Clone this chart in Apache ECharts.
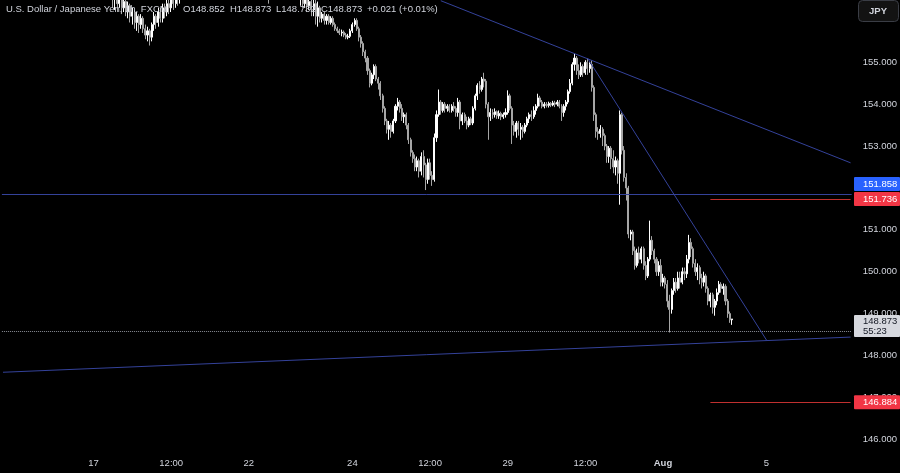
<!DOCTYPE html>
<html><head><meta charset="utf-8">
<script src="https://cdn.jsdelivr.net/npm/echarts@6/dist/echarts.min.js"></script>
<style>html,body{margin:0;padding:0;background:#000;}#c{width:900px;height:473px;}</style>
</head><body><div id="c"></div>
<script>
// ---- DATA ----
const symbolTitle = 'U.S. Dollar / Japanese Yen, 1h, FXCM';
const startTime = '2024-07-15T06:00:00Z';   // first hourly slot
const slotCount = 394;                         // hourly slots on the time axis
const tickLabels = [
  ['2024-07-17 00:00','17'],['2024-07-18 12:00','12:00'],['2024-07-22 00:00','22'],
  ['2024-07-24 00:00','24'],['2024-07-25 12:00','12:00'],['2024-07-29 00:00','29'],
  ['2024-07-30 12:00','12:00'],['2024-08-01 00:00','Aug'],['2024-08-05 00:00','5']
];
// [open, close, low, high]
const candles = [
[157.8,157.9,157.7,158.0],[157.9,158.0,157.85,158.1],[158.0,158.1,157.95,158.2],[158.1,157.95,157.9,158.15],[157.95,158.05,157.9,158.1],
[158.05,158.2,158.0,158.25],[158.2,158.1,158.05,158.3],[158.1,158.0,157.9,158.15],[158.0,157.85,157.8,158.05],[157.85,157.9,157.75,158.0],
[157.9,158.0,157.85,158.05],[158.0,158.1,157.95,158.15],[158.1,158.2,158.05,158.25],[158.2,158.3,158.15,158.35],[158.3,158.25,158.2,158.4],
[158.25,158.4,158.2,158.45],[158.4,158.35,158.3,158.5],[158.35,158.2,158.15,158.4],[158.2,158.3,158.15,158.35],[158.3,158.5,158.25,158.55],
[158.5,158.6,158.45,158.7],[158.6,158.5,158.45,158.65],[158.5,158.4,158.35,158.55],[158.4,158.45,158.35,158.5],[158.45,158.3,158.25,158.5],
[158.3,158.2,158.15,158.35],[158.2,158.35,158.15,158.4],[158.35,158.4,158.3,158.45],[158.4,158.3,158.25,158.45],[158.3,158.2,158.15,158.35],
[158.2,158.25,158.15,158.3],[158.25,158.3,158.2,158.35],[158.3,158.4,158.25,158.45],[158.4,158.5,158.35,158.55],[158.5,158.6,158.45,158.65],
[158.6,158.55,158.5,158.65],[158.55,158.4,158.35,158.6],[158.4,158.2,158.15,158.45],[158.2,158.0,157.95,158.25],[158.0,157.8,157.75,158.05],
[157.8,157.9,157.75,157.95],[157.9,157.7,157.65,157.95],[157.7,157.5,157.45,157.75],[157.5,157.6,157.45,157.65],[157.6,157.4,157.35,157.65],
[157.4,157.3,157.2,157.45],[157.3,157.2,157.1,157.35],[157.2,157.0,156.9,157.25],[157.0,156.9,156.75,157.05],[156.9,157.0,156.8,157.1],
[157.0,156.8,156.6,157.05],
[156.8,156.55,156.3,156.85],[156.55,156.6,156.25,156.7],[156.6,156.4,156.2,156.65],[156.4,156.5,156.3,156.6],[156.5,156.3,156.15,156.55],
[156.3,156.45,156.2,156.55],[156.45,156.2,156.1,156.5],[156.2,156.35,156.05,156.45],[156.35,156.1,155.95,156.4],[156.1,156.2,155.9,156.3],
[156.2,155.95,155.8,156.25],[155.95,156.1,155.75,156.2],[156.1,155.9,155.7,156.15],[155.9,156.05,155.8,156.15],[156.05,155.8,155.7,156.1],
[155.8,155.65,155.55,155.9],[155.65,155.75,155.5,155.85],[155.75,155.6,155.4,155.8],[155.6,155.9,155.5,155.95],[155.9,156.1,155.75,156.2],
[156.1,155.95,155.8,156.15],[155.95,156.2,155.85,156.3],[156.2,156.05,155.95,156.3],[156.05,156.3,155.95,156.4],[156.3,156.2,156.05,156.4],
[156.2,156.4,156.1,156.5],[156.4,156.3,156.15,156.5],[156.3,156.5,156.2,156.6],[156.5,156.4,156.25,156.6],[156.4,156.6,156.3,156.7],
[156.6,156.5,156.35,156.7],[156.5,156.7,156.4,156.8],[156.7,156.9,156.55,157.0],
[156.9,157.0,156.8,157.1],[157.0,157.2,156.95,157.25],[157.2,157.3,157.1,157.4],[157.3,157.1,157.05,157.35],[157.1,157.4,157.05,157.45],
[157.4,157.5,157.3,157.6],[157.5,157.3,157.25,157.55],[157.3,157.2,157.1,157.35],[157.2,157.4,157.15,157.45],[157.4,157.6,157.35,157.65],
[157.6,157.5,157.45,157.7],[157.5,157.7,157.45,157.75],[157.7,157.8,157.65,157.9],[157.8,157.6,157.55,157.85],[157.6,157.5,157.45,157.65],
[157.5,157.4,157.35,157.55],[157.4,157.6,157.35,157.65],[157.6,157.7,157.55,157.8],[157.7,157.5,157.45,157.75],[157.5,157.4,157.35,157.55],
[157.4,157.3,157.25,157.45],[157.3,157.5,157.25,157.55],[157.5,157.6,157.45,157.65],[157.6,157.4,157.35,157.65],[157.4,157.3,157.25,157.45],
[157.3,157.2,157.15,157.35],[157.2,157.1,157.05,157.25],[157.1,157.3,157.05,157.35],[157.3,157.4,157.25,157.45],[157.4,157.5,157.35,157.55],
[157.5,157.3,157.25,157.55],[157.3,157.1,157.05,157.35],[157.1,157.0,156.9,157.15],[157.0,156.9,156.8,157.05],[156.9,157.0,156.85,157.1],
[157.0,156.8,156.7,157.05],[156.8,156.9,156.7,156.95],[156.9,156.8,156.7,156.95],[156.8,156.7,156.6,156.85],[156.7,156.6,156.4,156.75],
[156.6,156.8,156.55,156.85],[156.8,157.0,156.75,157.05],[157.0,157.1,156.95,157.2],[157.1,157.0,156.9,157.15],[157.0,156.9,156.8,157.05],
[156.9,157.0,156.85,157.1],[157.0,156.8,156.7,157.05],[156.8,156.9,156.7,156.95],[156.9,157.0,156.85,157.1],[157.0,156.8,156.7,157.05],
[156.8,156.7,156.6,156.85],[156.7,156.6,156.55,156.75],[156.6,156.7,156.55,156.75],[156.7,156.55,156.5,156.75],
[156.55,156.6,156.35,156.8],[156.6,156.4,156.3,156.7],[156.4,156.5,156.3,156.65],[156.5,156.35,156.2,156.6],[156.35,156.45,156.25,156.55],
[156.45,156.25,156.1,156.5],[156.25,156.4,156.1,156.6],[156.4,156.1,155.9,156.5],[156.1,156.3,155.85,156.45],[156.3,156.05,155.95,156.35],
[156.05,156.15,155.95,156.2],[156.15,156.0,155.9,156.2],[156.0,156.1,155.9,156.15],[156.1,155.95,155.9,156.15],[155.95,156.05,155.9,156.1],
[156.05,155.9,155.85,156.1],[155.9,155.8,155.75,155.95],[155.8,155.75,155.7,155.85],[155.75,155.7,155.65,155.8],[155.7,155.72,155.62,155.78],
[155.72,155.65,155.6,155.76],[155.65,155.6,155.55,155.7],[155.6,155.62,155.55,155.68],[155.62,155.75,155.58,155.8],[155.75,155.9,155.7,155.95],
[155.9,156.0,155.85,156.05],[156.0,155.8,155.75,156.05],[155.8,155.6,155.5,155.85],[155.6,155.45,155.35,155.65],[155.45,155.25,155.15,155.5],
[155.25,155.1,155.0,155.3],[155.1,154.8,154.7,155.15],[154.8,154.5,154.4,154.85],[154.5,154.7,154.45,154.75],[154.7,154.9,154.6,154.95],
[154.9,154.6,154.55,154.95],[154.6,154.5,154.35,154.65],[154.5,154.2,154.1,154.55],[154.2,153.9,153.8,154.25],[153.9,153.6,153.5,153.95],
[153.6,153.4,153.3,153.65],[153.4,153.5,153.15,153.6],[153.5,153.35,153.2,153.55],[153.35,153.6,153.3,153.65],[153.6,153.95,153.55,154.0],
[153.95,154.05,153.85,154.15],[154.05,153.9,153.8,154.1],[153.9,153.7,153.6,154.0],[153.7,153.75,153.55,153.8],[153.75,153.5,153.4,153.8],
[153.5,153.15,153.05,153.55],[153.15,152.85,152.75,153.2],[152.85,152.7,152.6,152.9],[152.7,152.5,152.4,152.8],[152.5,152.65,152.4,152.75],
[152.65,152.4,152.25,152.7],[152.4,152.75,152.3,152.85],[152.75,152.55,152.25,152.9],[152.55,152.2,151.95,152.6],[152.2,152.6,152.1,152.7],
[152.6,152.3,152.2,152.7],[152.3,152.2,152.05,152.4],[152.2,153.2,152.15,153.3],[153.2,153.75,153.1,153.85],[153.75,154.05,153.7,154.35],
[154.05,153.85,153.75,154.1],[153.85,154.0,153.8,154.05],[154.0,153.9,153.8,154.05],[153.9,153.95,153.82,154.0],[153.95,153.85,153.8,154.0],
[153.85,153.95,153.8,154.0],[153.95,153.9,153.82,154.05],[153.9,153.8,153.7,153.95],[153.8,154.05,153.7,154.15],[154.05,153.6,153.4,154.1],
[153.6,153.75,153.5,153.8],[153.75,153.6,153.55,153.8],[153.6,153.5,153.4,153.7],[153.5,153.65,153.45,153.7],[153.65,153.55,153.5,153.7],
[153.55,153.9,153.5,153.95],[153.9,154.2,153.85,154.25],[154.2,154.45,154.1,154.5],[154.45,154.35,154.25,154.55],[154.35,154.6,154.3,154.65],
[154.6,154.55,154.4,154.75],[154.55,154.0,153.9,154.6],[154.0,153.7,153.15,154.05],[153.7,153.8,153.6,153.9],[153.8,153.75,153.65,153.88],
[153.75,153.82,153.68,153.9],[153.82,153.72,153.65,153.85],[153.72,153.78,153.65,153.85],[153.78,153.7,153.62,153.82],[153.7,153.75,153.65,153.8],
[153.75,153.8,153.68,153.9],[153.8,154.2,153.75,154.33],[154.2,153.9,153.85,154.25],[153.9,153.5,153.05,153.95],[153.5,153.35,153.25,153.6],
[153.35,153.55,153.2,153.6],[153.55,153.4,153.25,153.6],[153.4,153.45,153.15,153.55],[153.45,153.35,153.2,153.5],[153.35,153.5,153.3,153.55],
[153.5,153.65,153.45,153.7],[153.65,153.75,153.55,153.8],[153.75,153.7,153.6,153.85],[153.7,153.85,153.65,153.95],[153.85,153.95,153.75,154.0],
[153.95,154.15,153.9,154.25],[154.15,154.05,153.95,154.2],[154.05,153.95,153.9,154.1],[153.95,154.0,153.9,154.05],[154.0,153.97,153.92,154.05],
[153.97,154.02,153.92,154.06],[154.02,153.98,153.93,154.05],[153.98,154.03,153.95,154.08],[154.03,154.0,153.93,154.08],[154.0,154.05,153.95,154.1],
[154.05,153.95,153.9,154.1],[153.95,153.8,153.6,154.0],[153.8,153.95,153.7,154.0],[153.95,154.05,153.85,154.1],[154.05,154.3,154.0,154.35],
[154.3,154.5,154.25,154.6],[154.5,154.95,154.45,155.0],[154.95,155.1,154.8,155.2],[155.1,154.8,154.7,155.15],[154.8,154.7,154.6,154.95],
[154.7,154.9,154.65,155.0],[154.9,154.75,154.65,154.95],[154.75,155.0,154.7,155.05],[155.0,154.85,154.7,155.1],[154.85,154.95,154.75,155.0],
[154.95,154.4,154.3,155.05],[154.4,153.75,153.6,154.45],[153.75,153.35,153.2,153.8],[153.35,153.3,153.15,153.45],[153.3,153.4,153.2,153.5],
[153.4,153.25,153.0,153.45],[153.25,153.0,152.9,153.3],[153.0,152.75,152.6,153.05],[152.75,152.95,152.6,153.0],[152.95,152.7,152.45,153.0],
[152.7,152.5,152.35,152.9],[152.5,152.65,152.3,152.75],[152.65,152.35,152.1,152.7],[152.35,153.75,151.6,153.85],[153.75,152.9,152.8,153.8],
[152.9,152.25,152.15,153.0],[152.25,152.0,151.7,152.35],[152.0,150.9,150.8,152.05],[150.9,150.95,150.75,151.0],[150.95,150.5,150.4,151.0],
[150.5,150.15,150.05,150.6],[150.15,150.45,150.1,150.55],[150.45,150.3,150.2,150.6],[150.3,150.55,150.2,150.6],[150.55,150.15,150.05,150.6],
[150.15,149.9,149.8,150.25],[149.9,150.3,149.85,150.35],[150.3,150.75,150.25,151.22],[150.75,150.5,150.4,150.85],[150.5,150.3,150.2,150.55],
[150.3,150.0,149.9,150.35],[150.0,150.15,149.9,150.25],[150.15,149.75,149.65,150.3],[149.75,149.85,149.65,149.95],[149.85,149.7,149.6,149.9],
[149.7,149.3,149.15,149.8],[149.3,149.1,148.55,149.45],[149.1,149.55,149.0,149.6],[149.55,149.75,149.45,149.85],[149.75,149.6,149.5,149.85],
[149.6,149.85,149.55,150.0],[149.85,149.75,149.6,150.0],[149.75,150.0,149.7,150.1],[150.0,149.95,149.8,150.1],[149.95,150.3,149.85,150.4],
[150.3,150.7,150.2,150.88],[150.7,150.55,150.35,150.8],[150.55,150.2,150.1,150.6],[150.2,150.0,149.9,150.3],[150.0,150.1,149.8,150.2],
[150.1,149.85,149.7,150.15],[149.85,149.75,149.6,149.95],[149.75,149.9,149.65,150.0],[149.9,149.6,149.5,149.95],[149.6,149.3,149.2,149.65],
[149.3,149.45,149.15,149.5],[149.45,149.15,149.0,149.5],[149.15,149.3,148.95,149.35],[149.3,149.5,149.2,149.6],[149.5,149.7,149.45,149.78],
[149.7,149.6,149.5,149.75],[149.6,149.65,149.45,149.72],[149.65,149.3,149.2,149.7],[149.3,149.0,148.9,149.35],[149.0,148.852,148.78,149.05],
[148.852,148.873,148.732,148.873]
];
const supportLevel = 151.858;          // blue horizontal line
const redLevels = [151.736, 146.884];  // red short lines
const redStartSlot = 328;
const dottedLevel = 148.58;
const countdown = '55:23';
// trend lines: [slot index, price]
const upperTrend = [[203,156.47],[393,152.60]];
const steepTrend = [[271,155.10],[354,148.37]];
const lowerTrend = [[0,147.60],[393,148.44]];
const yMin = 145.792, yMax = 156.487;
const topLabelCut = 155.5;             // price labels above this sit under the currency button

// ---- BUILD ----
function fmt(d){const p=n=>String(n).padStart(2,'0');return d.getUTCFullYear()+'-'+p(d.getUTCMonth()+1)+'-'+p(d.getUTCDate())+' '+p(d.getUTCHours())+':00';}
const categories=[];
let t=Date.parse(startTime);
while(categories.length<slotCount){
  const d=new Date(t),wd=d.getUTCDay(),h=d.getUTCHours();
  const closed=(wd===5&&h>=21)||wd===6||(wd===0&&h<21);
  if(!closed) categories.push(fmt(d));
  t+=3600000;
}
const tickMap=Object.fromEntries(tickLabels);
const FONT='"Liberation Sans", Arial, sans-serif';
const TXT='#d1d4dc';
const BLUE='#34429a', RED='#c0302f';
const last=candles[candles.length-1];
const lastPrice=last[1];

const chart=echarts.init(document.getElementById('c'),null,{renderer:'canvas'});
const seg=(pts,style)=>[{coord:[pts[0][0],pts[0][1]],lineStyle:style},{coord:[pts[1][0],pts[1][1]]}];
const blueStyle={color:BLUE,width:1,type:'solid'};
const redStyle={color:RED,width:1,type:'solid'};
const option={
  backgroundColor:'#000000',
  animation:false,
  grid:{left:0,right:48,top:0,bottom:25},
  xAxis:{type:'category',data:categories,boundaryGap:true,
    axisLine:{show:false},axisTick:{show:false},splitLine:{show:false},
    axisLabel:{interval:0,margin:10,color:TXT,fontSize:9.5,fontFamily:FONT,
      formatter:v=>{const s=tickMap[v];if(!s)return '';return s==='Aug'?'{b|Aug}':s;},
      rich:{b:{fontWeight:'bold',color:TXT,fontSize:9.5,fontFamily:FONT}}}},
  yAxis:{type:'value',position:'right',min:yMin,max:yMax,splitNumber:10,
    axisLine:{show:false},axisTick:{show:false},splitLine:{show:false},
    axisLabel:{margin:11,color:TXT,fontSize:9.5,fontFamily:FONT,showMinLabel:false,showMaxLabel:false,
      formatter:v=>v>topLabelCut?'':v.toFixed(3)}},
  series:[{
    type:'candlestick',data:candles,barWidth:'72%',
    itemStyle:{color:'#ffffff',color0:'#a6a6a6',borderColor:'#ffffff',borderColor0:'#a6a6a6',borderWidth:1},
    markLine:{silent:true,symbol:['none','none'],animation:false,label:{show:false},
      data:[
        {yAxis:supportLevel,lineStyle:blueStyle},
        {yAxis:dottedLevel,lineStyle:{color:'#8a8d96',width:1,type:'dotted'}},
        seg([[redStartSlot,redLevels[0]],[slotCount-1,redLevels[0]]],redStyle),
        seg([[redStartSlot,redLevels[1]],[slotCount-1,redLevels[1]]],redStyle),
        seg(upperTrend,blueStyle),
        seg(steepTrend,blueStyle),
        seg(lowerTrend,blueStyle)
      ]}
  }]
};
chart.setOption(option);

// ---- overlays: price boxes and header (positions from the y scale) ----
const py=v=>chart.convertToPixel({yAxisIndex:0},v);
const BOX_H=14, BOX_X=854, BOX_W=46;
const redY0=py(redLevels[0]);
const blueY=Math.min(py(supportLevel),redY0-BOX_H-1);
function box(cy,text,bg,fg){
  return [{type:'rect',z:100,shape:{x:BOX_X,y:cy-BOX_H/2,width:BOX_W,height:BOX_H,r:1},style:{fill:bg}},
    {type:'text',z:101,x:863,y:cy,style:{text:text,fill:fg,font:'9.5px '+FONT,textVerticalAlign:'middle',textAlign:'left'}}];
}
const curTop=py(lastPrice)-4;
const g=[].concat(
  box(blueY,supportLevel.toFixed(3),'#2962ff','#ffffff'),
  box(redY0,redLevels[0].toFixed(3),'#f23645','#ffffff'),
  box(py(redLevels[1]),redLevels[1].toFixed(3),'#f23645','#ffffff'),
  [{type:'rect',z:100,shape:{x:BOX_X,y:curTop,width:BOX_W,height:22,r:1},style:{fill:'#d6d8de'}},
   {type:'text',z:101,x:863,y:curTop+6,style:{text:lastPrice.toFixed(3),fill:'#131722',font:'9.5px '+FONT,textVerticalAlign:'middle'}},
   {type:'text',z:101,x:863,y:curTop+16.5,style:{text:countdown,fill:'#131722',font:'9.5px '+FONT,textVerticalAlign:'middle'}}]
);
// JPY button
g.push({type:'rect',z:100,shape:{x:858.5,y:0.5,width:40,height:21,r:4},style:{fill:'#131313',stroke:'#3a3d45',lineWidth:1}});
g.push({type:'text',z:101,x:878,y:11,style:{text:'JPY',fill:TXT,font:'bold 9.5px '+FONT,textAlign:'center',textVerticalAlign:'middle'}});
// header legend
const ch=last[1]-last[0];
const sign=ch>=0?'+':'-';
const headerParts=[
  [6,symbolTitle],[183,'O'+last[0].toFixed(3)],[230,'H'+last[3].toFixed(3)],[276,'L'+last[2].toFixed(3)],
  [321,'C'+last[1].toFixed(3)],[367,sign+Math.abs(ch).toFixed(3)+' ('+sign+Math.abs(ch/last[0]*100).toFixed(2)+'%)']
];
headerParts.forEach(([x,s])=>g.push({type:'text',z:101,x:x,y:9,style:{text:s,fill:TXT,font:'9.5px '+FONT,textVerticalAlign:'middle'}}));
chart.setOption({graphic:g});
</script></body></html>
